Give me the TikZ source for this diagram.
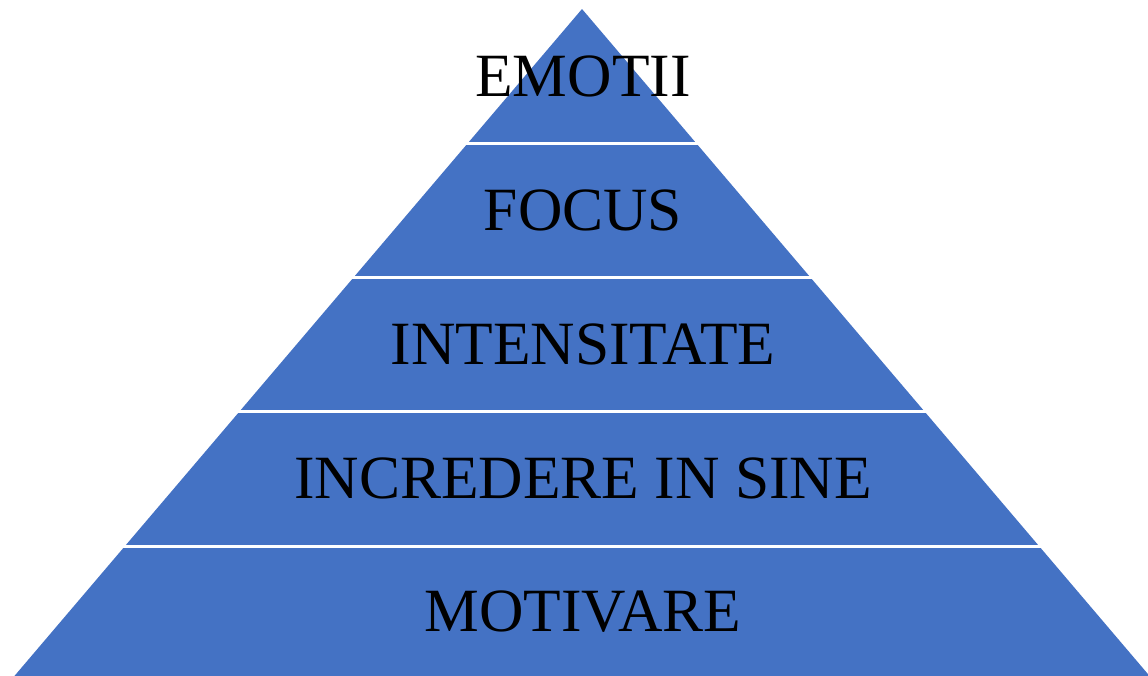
\documentclass[tikz,border=0pt]{standalone}
\usepackage{fontspec}
\setmainfont{Liberation Serif}
\usepackage{tikz}
\definecolor{pyrblue}{HTML}{4472C4}

\tikzset{
  layertext/.style={font=\fontsize{61.5}{72}\selectfont, text=black, anchor=center},
  layersep/.style={white, line width=3.5pt}
}

\begin{document}
\begin{tikzpicture}[x=1pt,y=-1pt]

           % frame of the picture
           \useasboundingbox (0,0) rectangle (1148,675);
           \clip (0,0) rectangle (1148,675);

           % Pyramid body
           \fill[pyrblue] (582,9)--(1153,680)--(11,680)--cycle;

           % Layer separators
           \draw[layersep] (466,143.5)--(698,143.5);
           \draw[layersep] (352,277.5)--(812,277.5);
           \draw[layersep] (238,411.5)--(926,411.5);
           \draw[layersep] (123,546.5)--(1041,546.5);

           % Layer labels
           \node[layertext] (emotii) at (583,76) {EMOTII};
           \node[layertext] (focus) at (583,210) {FOCUS};
           \node[layertext] (intensitate) at (583,344) {INTENSITATE};
           \node[layertext] (incredere) at (583,478) {INCREDERE IN SINE};
           \node[layertext] (motivare) at (583,612) {MOTIVARE};

\end{tikzpicture}
\end{document}
